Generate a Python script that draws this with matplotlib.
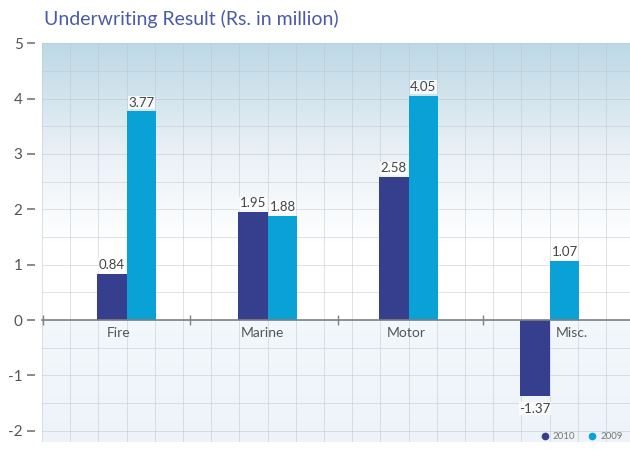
import numpy as np
import matplotlib.pyplot as plt
from matplotlib.colors import LinearSegmentedColormap
from matplotlib.lines import Line2D

plt.rcParams['font.family'] = ['Lato', 'DejaVu Sans']
plt.rcParams['axes.unicode_minus'] = False

categories = ['Fire', 'Marine', 'Motor', 'Misc.']
res_2010 = [0.84, 1.95, 2.58, -1.37]
res_2009 = [3.77, 1.88, 4.05, 1.07]

c2010 = '#363f8e'
c2009 = '#0aa2d6'

fig = plt.figure(figsize=(6.3, 4.5), dpi=100)
ax = fig.add_axes([0.0667, 0.018, 0.9333, 0.886])

ymin, ymax = -2.2, 5
xmin, xmax = -0.6, 3.57

# vertical background gradient: pale blue on top, white in the middle
grad = LinearSegmentedColormap.from_list('bg', [
    (0.0, (0.93, 0.955, 0.975)),
    (0.30, (0.95, 0.97, 0.985)),
    (0.31, (1, 1, 1)),
    (0.50, (1, 1, 1)),
    (0.72, (0.92, 0.945, 0.965)),
    (1.0, (0.74, 0.85, 0.90)),
])
ax.imshow(np.linspace(0, 1, 256).reshape(-1, 1), cmap=grad, aspect='auto',
          extent=[xmin, xmax, ymin, ymax], origin='lower', zorder=0)

# grid
for gy in np.arange(-2, 5.01, 0.5):
    ax.axhline(gy, color='#b9c3cc', lw=0.6, alpha=0.55, zorder=1)
for gx in np.arange(xmin, xmax, 0.2):
    ax.axvline(gx, color='#b9c3cc', lw=0.6, alpha=0.55, zorder=1)

x = np.arange(len(categories))
w = 0.21
b1 = ax.bar(x - w / 2, res_2010, w, color=c2010, zorder=3)
b2 = ax.bar(x + w / 2, res_2009, w, color=c2009, zorder=3)

# value labels
for bars, vals in ((b1, res_2010), (b2, res_2009)):
    for rect, v in zip(bars, vals):
        cx = rect.get_x() + rect.get_width() / 2
        if v >= 0:
            ax.text(cx, v + 0.05, f'{v:.2f}', ha='center', va='bottom',
                    fontsize=9.5, color='#444444', zorder=4,
                    bbox=dict(facecolor='white', edgecolor='none', pad=0.5, alpha=0.8))
        else:
            ax.text(cx, v - 0.12, f'{v:.2f}', ha='center', va='top',
                    fontsize=9.5, color='#444444', zorder=4,
                    bbox=dict(facecolor='white', edgecolor='none', pad=0.5, alpha=0.8))

# category names under the zero line
label_shift = [-0.06, -0.04, -0.02, 0.16]
for xi, name, dx in zip(x, categories, label_shift):
    ax.text(xi + dx, -0.12, name, ha='center', va='top', fontsize=10,
            color='#555555', zorder=4)

ax.set_xlim(xmin, xmax)
ax.set_ylim(ymin, ymax)

# zero line with group separators
ax.spines['bottom'].set_position(('data', 0))
ax.spines['bottom'].set_color('#808080')
ax.spines['bottom'].set_linewidth(1.2)
ax.spines['bottom'].set_zorder(5)
ax.set_xticks([-0.59, 0.45, 1.5, 2.53])
ax.set_xticklabels([])
ax.tick_params(axis='x', direction='inout', length=7, width=1, color='#808080')

for s in ('top', 'right'):
    ax.spines[s].set_visible(False)
ax.spines['left'].set_position(('outward', 5))
ax.spines['left'].set_visible(False)
ax.set_yticks(range(-2, 6))
ax.tick_params(axis='y', direction='out', length=6, width=1.2, color='#777777',
               labelsize=11, labelcolor='#555555', pad=3)

fig.text(0.07, 0.958, 'Underwriting Result (Rs. in million)', fontsize=14,
         color='#4a5aa6', ha='left', va='center')

handles = [Line2D([], [], marker='o', ls='none', color=c2010, markersize=4.5),
           Line2D([], [], marker='o', ls='none', color=c2009, markersize=4.5)]
fig.legend(handles, ['2010', '2009'], loc='center left', bbox_to_anchor=(0.843, 0.03),
           ncol=2, frameon=False, fontsize=7, labelcolor='#777777',
           handletextpad=0.3, columnspacing=1.3, handlelength=1)

fig.savefig('out.png', dpi=100)
